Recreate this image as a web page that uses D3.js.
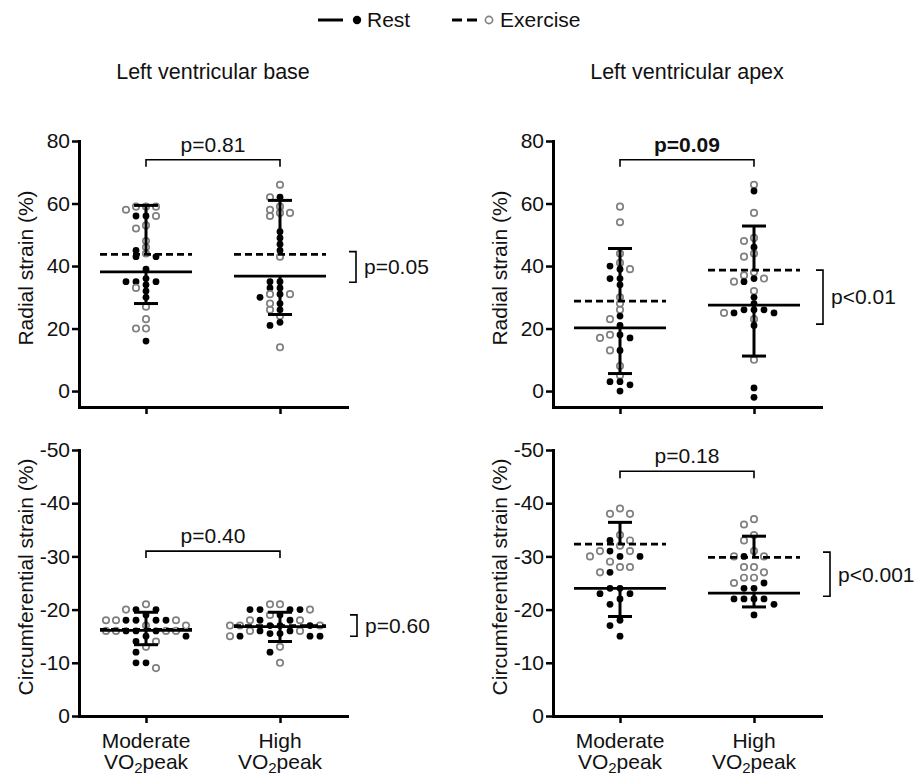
<!DOCTYPE html>
<html>
<head>
<meta charset="utf-8">
<script src="https://cdn.jsdelivr.net/npm/d3@7/dist/d3.min.js"></script>
<style>
  body { margin: 0; background: #fff; }
  text { font-family: "Liberation Sans", Arial, sans-serif; fill: #111; }
</style>
</head>
<body>
<div id="chart"></div>
<script>
// categories and tick labels
var groups = ["Moderate", "High"];
var radialTicks = [0, 20, 40, 60, 80];
var circTicks = [0, -10, -20, -30, -40, -50];

// individual values, rest = filled, exercise = open
var baseRadModRest = [56, 56, 45, 43, 43, 39, 36, 35, 35, 35, 34, 32, 30, 16];
var baseRadModEx = [59, 59, 59, 58, 56, 53, 52, 48, 46, 44, 33, 27, 23, 20, 20];
var baseRadHighRest = [62, 51, 49, 47, 45, 35, 35, 33, 33, 31, 30, 28, 26, 22, 21];
var baseRadHighEx = [66, 62, 59, 58, 57, 57, 56, 43, 31, 31, 28, 26, 24, 14];

var apexRadModRest = [40, 39, 36, 36, 34, 24, 21, 18, 17, 13, 3, 3, 2, 0];
var apexRadModEx = [59, 54, 44, 41, 39, 30, 28, 26, 23, 18, 17, 13, 8, 5];
var apexRadHighRest = [64, 46, 36, 35, 30, 28, 26, 26, 26, 25, 25, 21, 1, -2];
var apexRadHighEx = [66, 57, 49, 48, 44, 43, 38, 37, 36, 35, 32, 25, 23, 10];

var baseCircModRest = [-20, -20, -19, -18, -18, -18, -18, -16, -16, -16, -15, -15, -14, -12, -10, -10];
var baseCircModEx = [-21, -20, -18, -18, -18, -17, -17, -16, -16, -16, -16, -14, -13, -9];
var baseCircHighRest = [-20, -20, -20, -20, -19, -18, -17, -17, -17, -16, -16, -18, -15.5, -15.5, -15, -15, -15, -12];
var baseCircHighEx = [-21, -21, -20, -19, -18, -18, -17, -17, -17, -16, -16, -15, -13, -10];

var apexCircModRest = [-33, -31, -30, -30, -27, -24, -24, -23, -23, -22, -21, -18, -17, -15];
var apexCircModEx = [-39, -38, -38, -34, -33, -32, -31, -31, -30, -29, -28, -28, -27];
var apexCircHighRest = [-30, -25, -24, -24, -22, -22, -22, -22, -21, -19];
var apexCircHighEx = [-37, -36, -34, -33, -31, -30, -30, -28, -28, -27, -26, -26, -25];

// means and SD per group [Moderate, High]
var baseRadRestMean = [38.1, 36.8], baseRadRestSD = [10.1, 12.3];
var baseRadExMean = [43.7, 43.7], baseRadExSD = [15.7, 17.3];
var apexRadRestMean = [20.2, 27.5], apexRadRestSD = [14.6, 16.3];
var apexRadExMean = [28.8, 38.7], apexRadExSD = [16.8, 14.1];
var baseCircRestMean = [-16.1, -16.8], baseCircRestSD = [2.7, 2.8];
var baseCircExMean = [-16.3, -17.0], baseCircExSD = [3.2, 2.5];
var apexCircRestMean = [-24.0, -23.1], apexCircRestSD = [5.3, 2.6];
var apexCircExMean = [-32.3, -29.8], apexCircExSD = [4.1, 4.0];

// p values and where their brackets sit (in axis units)
var pGroup = ["p=0.81", "p=0.09", "p=0.40", "p=0.18"];
var pGroupAt = [74, 74, -31, -46];
var pCond = ["p=0.05", "p<0.01", "p=0.60", "p<0.001"];
var pCondFrom = [44.6, 38.7, -19.0, -30.8];
var pCondTo = [34.8, 21.4, -15.0, -22.5];

var width = 917, height = 777;
var fs = "21px";

var svg = d3.select("#chart")
    .append("svg")
    .attr("width", width)
    .attr("height", height);

// legend
var leg = svg.append("g");
leg.append("line").attr("x1", 318).attr("x2", 343).attr("y1", 20).attr("y2", 20)
    .attr("stroke", "#000").attr("stroke-width", 3);
leg.append("circle").attr("cx", 357).attr("cy", 20).attr("r", 4.2).attr("fill", "#000");
leg.append("text").attr("x", 367).attr("y", 27).style("font-size", fs).text("Rest");
leg.append("line").attr("x1", 452).attr("x2", 477).attr("y1", 20).attr("y2", 20)
    .attr("stroke", "#000").attr("stroke-width", 3).attr("stroke-dasharray", "10,5");
leg.append("circle").attr("cx", 489).attr("cy", 20).attr("r", 3.6)
    .attr("fill", "none").attr("stroke", "#808080").attr("stroke-width", 1.6);
leg.append("text").attr("x", 500).attr("y", 27).style("font-size", fs).text("Exercise");

var panels = [
    {title: "Left ventricular base", ylab: "Radial strain (%)", left: 79, top: 141, bottom: 407,
     domain: [-5.1, 80], ticks: radialTicks, dir: 1, labels: false, bx: 76,
     rest: [baseRadModRest, baseRadHighRest], ex: [baseRadModEx, baseRadHighEx],
     rm: baseRadRestMean, rs: baseRadRestSD, em: baseRadExMean, es: baseRadExSD},
    {title: "Left ventricular apex", ylab: "Radial strain (%)", left: 553, top: 141, bottom: 407,
     domain: [-5.1, 80], ticks: radialTicks, dir: 1, labels: false, bx: 69, bold: true,
     rest: [apexRadModRest, apexRadHighRest], ex: [apexRadModEx, apexRadHighEx],
     rm: apexRadRestMean, rs: apexRadRestSD, em: apexRadExMean, es: apexRadExSD},
    {ylab: "Circumferential strain (%)", left: 79, top: 450, bottom: 716,
     domain: [0, -50], ticks: circTicks, dir: -1, labels: true, bx: 77,
     rest: [baseCircModRest, baseCircHighRest], ex: [baseCircModEx, baseCircHighEx],
     rm: baseCircRestMean, rs: baseCircRestSD, em: baseCircExMean, es: baseCircExSD},
    {ylab: "Circumferential strain (%)", left: 553, top: 450, bottom: 716,
     domain: [0, -50], ticks: circTicks, dir: -1, labels: true, bx: 76,
     rest: [apexCircModRest, apexCircHighRest], ex: [apexCircModEx, apexCircHighEx],
     rm: apexCircRestMean, rs: apexCircRestSD, em: apexCircExMean, es: apexCircExSD}
];

// place dots of one column on a 10px grid; rows closer than ~5px spread sideways
function swarm(pts, cx) {
    var placed = [];
    pts.forEach(function(p) {
        for (var k = 0; k < 30; k++) {
            var off = k == 0 ? 0 : (k % 2 ? -(k + 1) / 2 : k / 2);
            var x = cx + off * 10;
            var hit = placed.some(function(q) {
                return Math.abs(q.x - x) < 9 && Math.abs(q.y - p.y) < 5.5;
            });
            if (!hit) { p.x = x; placed.push(p); break; }
        }
    });
}

panels.forEach(function(P, pi) {
    var g = svg.append("g");
    var plotW = 268;

    var x = d3.scalePoint().domain(groups).range([P.left, P.left + plotW]).padding(0.5);
    var y = d3.scaleLinear().domain(P.domain).range([P.bottom, P.top]);

    // Y axis (plain hyphen for negative labels)
    var ya = g.append("g")
        .attr("transform", "translate(" + P.left + ",0)")
        .call(d3.axisLeft(y).tickValues(P.ticks).tickSize(7).tickSizeOuter(0).tickPadding(2)
            .tickFormat(function(d) { return String(d); }));
    ya.select(".domain").attr("stroke-width", 3).attr("stroke-linecap", "square");
    ya.selectAll(".tick line").attr("stroke-width", 2.5);
    ya.selectAll(".tick text").style("font-size", fs).attr("fill", "#111");

    // X axis
    var xa = g.append("g")
        .attr("transform", "translate(0," + P.bottom + ")")
        .call(d3.axisBottom(x).tickSize(7).tickSizeOuter(0).tickFormat(""));
    xa.select(".domain").attr("stroke-width", 3).attr("stroke-linecap", "square");
    xa.selectAll(".tick line").attr("stroke-width", 2.5);

    if (P.labels) {
        groups.forEach(function(c) {
            g.append("text").attr("x", x(c)).attr("y", P.bottom + 32)
                .attr("text-anchor", "middle").style("font-size", fs).text(c);
            var t = g.append("text").attr("x", x(c)).attr("y", P.bottom + 53)
                .attr("text-anchor", "middle").style("font-size", fs);
            t.append("tspan").text("VO");
            t.append("tspan").attr("dy", 4).style("font-size", "15px").text("2");
            t.append("tspan").attr("dy", -4).text("peak");
        });
    }

    // y label
    var lx = P.left - 46;
    g.append("text")
        .attr("transform", "translate(" + lx + "," + ((P.top + P.bottom) / 2 - 6) + ") rotate(-90)")
        .attr("text-anchor", "middle").style("font-size", fs).text(P.ylab);

    if (P.title) {
        g.append("text").attr("x", (x(groups[0]) + x(groups[1])) / 2).attr("y", 79)
            .attr("text-anchor", "middle").style("font-size", "21.5px").text(P.title);
    }

    // dots
    groups.forEach(function(c, i) {
        var pts = [];
        P.rest[i].forEach(function(v) { pts.push({v: v, y: y(v), rest: true}); });
        P.ex[i].forEach(function(v) { pts.push({v: v, y: y(v), rest: false}); });
        pts.sort(function(a, b) { return a.y - b.y; });
        swarm(pts, x(c));

        g.selectAll(null)
            .data(pts)
            .enter()
            .append("circle")
            .attr("cx", function(d) { return d.x; })
            .attr("cy", function(d) { return d.y; })
            .attr("r", function(d) { return d.rest ? 3.4 : 3.2; })
            .attr("fill", function(d) { return d.rest ? "#000" : "none"; })
            .attr("stroke", function(d) { return d.rest ? "none" : "#808080"; })
            .attr("stroke-width", 1.7);

        var cx = x(c);
        // mean lines
        g.append("line").attr("x1", cx - 46).attr("x2", cx + 46)
            .attr("y1", y(P.rm[i])).attr("y2", y(P.rm[i]))
            .attr("stroke", "#000").attr("stroke-width", 2.8);
        g.append("line").attr("x1", cx - 46).attr("x2", cx + 46)
            .attr("y1", y(P.em[i])).attr("y2", y(P.em[i]))
            .attr("stroke", "#000").attr("stroke-width", 2.8).attr("stroke-dasharray", "7,4");

        // SD bars: rest towards zero, exercise away from it
        var rEnd = P.rm[i] - P.dir * P.rs[i];
        var eEnd = P.em[i] + P.dir * P.es[i];
        [[P.rm[i], rEnd], [P.em[i], eEnd]].forEach(function(b) {
            g.append("line").attr("x1", cx).attr("x2", cx)
                .attr("y1", y(b[0])).attr("y2", y(b[1]))
                .attr("stroke", "#000").attr("stroke-width", 3);
            g.append("line").attr("x1", cx - 12).attr("x2", cx + 12)
                .attr("y1", y(b[1])).attr("y2", y(b[1]))
                .attr("stroke", "#000").attr("stroke-width", 3);
        });
    });

    // group comparison bracket
    var by = y(pGroupAt[pi]);
    g.append("path")
        .attr("d", "M" + x(groups[0]) + "," + (by + 7) + "V" + by + "H" + x(groups[1]) + "V" + (by + 7))
        .attr("fill", "none").attr("stroke", "#000").attr("stroke-width", 1.6);
    g.append("text").attr("x", (x(groups[0]) + x(groups[1])) / 2).attr("y", by - 8)
        .attr("text-anchor", "middle").style("font-size", fs)
        .style("font-weight", P.bold ? "bold" : "normal").text(pGroup[pi]);

    // rest vs exercise bracket
    var bx = x(groups[1]) + P.bx;
    var y1 = y(pCondFrom[pi]), y2 = y(pCondTo[pi]);
    g.append("path")
        .attr("d", "M" + (bx - 7) + "," + y1 + "H" + bx + "V" + y2 + "H" + (bx - 7))
        .attr("fill", "none").attr("stroke", "#000").attr("stroke-width", 1.6);
    g.append("text").attr("x", bx + 8).attr("y", (y1 + y2) / 2).attr("dy", "0.35em")
        .style("font-size", fs).text(pCond[pi]);
});
</script>
</body>
</html>
